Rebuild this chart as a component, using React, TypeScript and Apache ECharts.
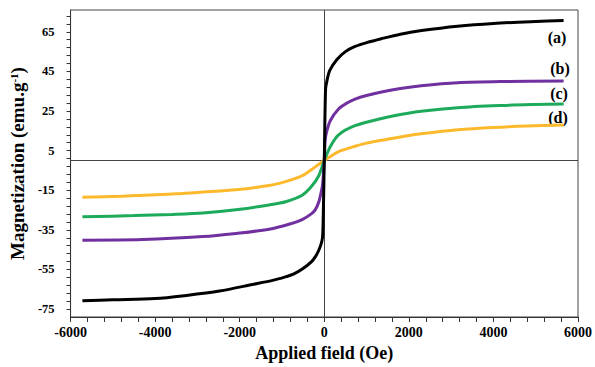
import React, { useEffect, useRef } from "react";
import * as echarts from "echarts";

// Applied field (Oe) and magnetization (emu/g)
const xA = [-5720, -5000, -4000, -3260, -2480, -1700, -1200, -900, -730, -520, -300, -210, -130, -60, -35, 0, 30, 60, 130, 300, 500, 730, 1000, 1350, 1800, 2300, 3150, 4000, 5000, 5660];
const yA = [-70.8, -70.3, -69.7, -68.1, -65.9, -62.6, -60.4, -58.6, -57.4, -54.8, -51, -48.5, -45.3, -41, -37, 0, 36, 40, 45.5, 51, 55, 57.6, 59.5, 61.5, 63.8, 65.6, 67.8, 69.2, 70.2, 70.7];

const xB = [-5720, -4300, -2870, -2088, -1305, -835, -523, -300, -211, -131, -94, -40, 0, 20, 50, 141, 338, 550, 728, 1000, 1354, 1800, 2292, 3153, 4200, 5660];
const yB = [-40.2, -39.9, -38.4, -36.8, -34.7, -32.2, -29.8, -26.8, -24.8, -21, -18, -12, 0, 10, 14, 20.1, 26, 29.2, 31, 32.8, 34.6, 36.4, 37.8, 39.3, 39.9, 40.2];

const xC = [-5720, -4500, -3600, -2870, -2088, -1305, -915, -523, -300, -131, 0, 141, 338, 728, 1354, 1800, 2292, 3153, 4200, 5000, 5660];
const yC = [-28.4, -27.8, -27.2, -26.5, -24.9, -22.4, -20.8, -17.5, -13, -7.7, 0, 7, 13, 17.6, 21.2, 23.2, 24.9, 26.7, 27.8, 28.3, 28.6];

const xD = [-5720, -4800, -4277, -3500, -2870, -2088, -1305, -900, -523, -211, 0, 200, 338, 728, 1000, 1354, 1900, 2292, 3153, 4000, 4800, 5660];
const yD = [-18.5, -18, -17.5, -16.8, -15.9, -14.7, -12.6, -10.5, -7.7, -3.2, 0, 2.8, 4.5, 7.2, 8.8, 10.2, 12.3, 13.5, 15.5, 16.7, 17.4, 17.9];

const seriesLabels = ["(a)", "(b)", "(c)", "(d)"];
const seriesColors = ["#000000", "#7030A0", "#1DAA5A", "#FDB92C"];
const yLabelValues = [-75, -55, -35, -15, 5, 25, 45, 65];

const FONT = '"Liberation Serif", "Times New Roman", serif';

const zip = (xs: number[], ys: number[]) => xs.map((x, i) => [x, ys[i]]);

export default function App() {
  const ref = useRef<HTMLDivElement>(null);
  useEffect(() => {
    if (!ref.current) return;
    const chart = echarts.init(ref.current, null, { renderer: "svg" });
    const datasets = [zip(xA, yA), zip(xB, yB), zip(xC, yC), zip(xD, yD)];
    const labelPos = [
      [557, 37],
      [560, 68],
      [559, 93],
      [558, 117],
    ];
    chart.setOption({
      animation: false,
      grid: {
        left: 66.5,
        right: 17,
        top: 10,
        bottom: 42,
        show: true,
        borderColor: "#444",
        borderWidth: 1,
      },
      xAxis: {
        type: "value",
        min: -6000,
        max: 6000,
        interval: 2000,
        name: "Applied field (Oe)",
        nameLocation: "middle",
        nameGap: 27,
        nameTextStyle: { fontFamily: FONT, fontWeight: "bold", fontSize: 18, color: "#000" },
        axisLine: { show: true, onZero: false, lineStyle: { color: "#333", width: 1 } },
        axisTick: { show: true, inside: false, length: 5, lineStyle: { color: "#333" } },
        minorTick: { show: true, splitNumber: 5, length: 5, lineStyle: { color: "#333" } },
        splitLine: { show: false },
        axisLabel: {
          fontFamily: FONT,
          fontWeight: "bold",
          fontSize: 14,
          color: "#000",
          margin: 8,
          formatter: (v: number) => String(v),
        },
      },
      yAxis: {
        type: "value",
        min: -79,
        max: 76,
        interval: 4,
        name: "{n|Magnetization (emu.g}{s|-1}{n|)}",
        nameLocation: "middle",
        nameGap: 32,
        nameTextStyle: {
          rich: {
            n: { fontFamily: FONT, fontWeight: "bold", fontSize: 19, color: "#000" },
            s: { fontFamily: FONT, fontWeight: "bold", fontSize: 11, color: "#000", verticalAlign: "top", padding: [0, 0, 8, 0] },
          },
        },
        axisLine: { show: true, onZero: false, lineStyle: { color: "#333", width: 1 } },
        axisTick: { show: true, inside: false, length: 4, lineStyle: { color: "#333" } },
        splitLine: { show: false },
        axisLabel: {
          fontFamily: FONT,
          fontWeight: "bold",
          fontSize: 12.5,
          color: "#000",
          margin: 16,
          showMinLabel: false,
          showMaxLabel: false,
          formatter: (v: number) => (yLabelValues.includes(Math.round(v)) ? String(Math.round(v)) : ""),
        },
      },
      graphic: seriesLabels.map((t, i) => ({
        type: "text",
        x: labelPos[i][0],
        y: labelPos[i][1],
        style: {
          text: t,
          font: `bold 16px ${FONT}`,
          fill: "#000",
          textAlign: "center",
          textVerticalAlign: "middle",
        },
      })),
      series: datasets.map((d, i) => ({
        type: "line",
        data: d,
        showSymbol: false,
        symbol: "none",
        smooth: 0.3,
        lineStyle: { color: seriesColors[i], width: 3 },
        z: 10 - i,
        markLine:
          i === 0
            ? {
                silent: true,
                symbol: "none",
                label: { show: false },
                lineStyle: { color: "#444", width: 1, type: "solid" },
                data: [{ xAxis: 0 }, { yAxis: 0 }],
                z: 1,
              }
            : undefined,
      })),
    });
    return () => chart.dispose();
  }, []);
  return (
    <div
      ref={ref}
      style={{ position: "fixed", left: 0, top: 0, width: 595, height: 367, background: "#fff" }}
    />
  );
}
